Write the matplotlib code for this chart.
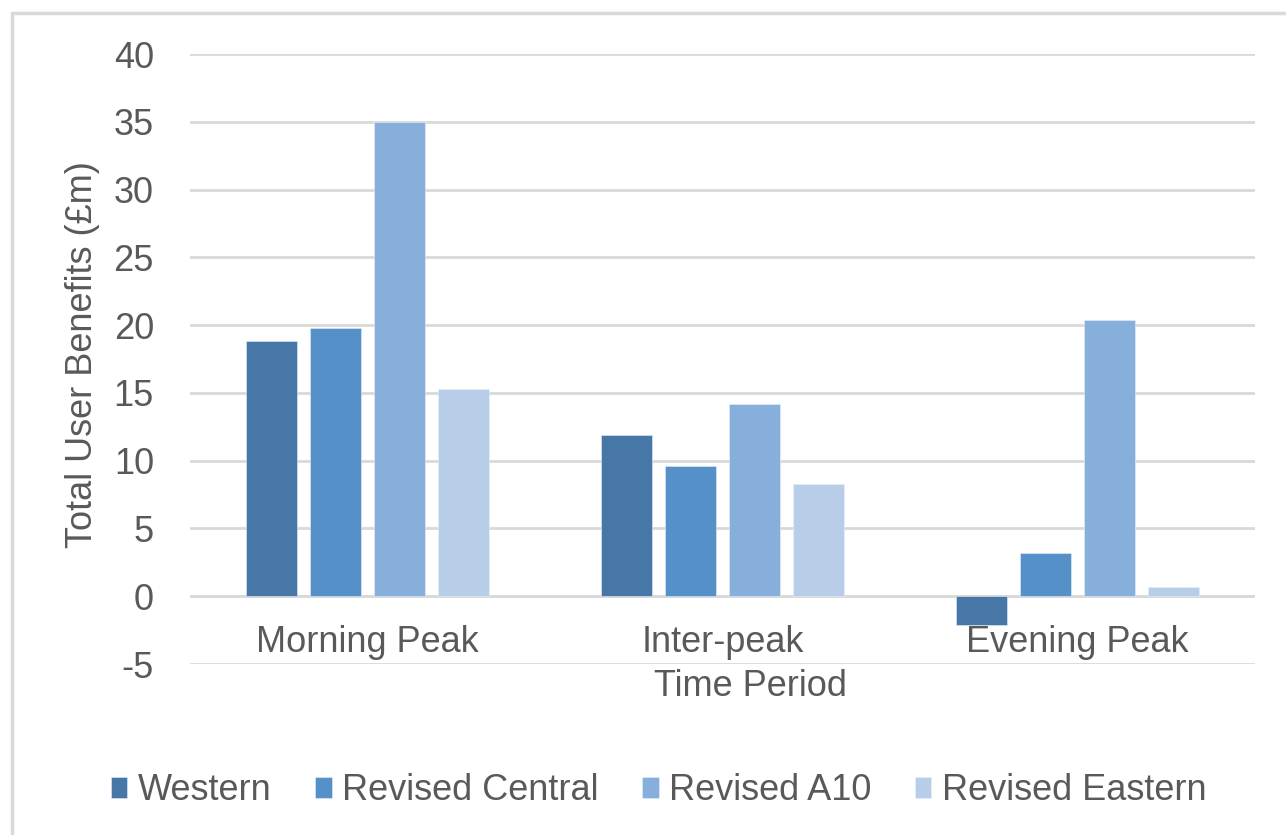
import numpy as np
import matplotlib.pyplot as plt
from matplotlib.patches import Rectangle

plt.rcParams['font.family'] = ['Liberation Sans', 'DejaVu Sans']

periods = ["Morning Peak", "Inter-peak", "Evening Peak"]
series = ["Western", "Revised Central", "Revised A10", "Revised Eastern"]
western = [18.8, 11.9, -2.1]
revised_central = [19.8, 9.6, 3.2]
revised_a10 = [35.0, 14.2, 20.4]
revised_eastern = [15.3, 8.3, 0.7]
y_ticks = [-5, 0, 5, 10, 15, 20, 25, 30, 35, 40]

colors = ["#4677A6", "#5591C8", "#86AFDC", "#B8CDE8"]
text_color = "#595959"
grid_color = "#D9D9D9"
fs = 26

W, H = 1286, 835
fig = plt.figure(figsize=(W / 100, H / 100), dpi=100)
fig.patch.set_facecolor("white")

# light frame around the chart area (only top and left edges fall inside)
fig.add_artist(Rectangle((12 / W, -0.05), 1.1, 1 - 13 / H + 0.05,
                         transform=fig.transFigure, fill=False,
                         edgecolor="#D9D9D9", linewidth=2.5))

ax = fig.add_axes([190 / W, 1 - 664 / H, (1255 - 190) / W, (664 - 54) / H])

x = np.arange(len(periods))
step = 0.18
width = 0.144
values = [western, revised_central, revised_a10, revised_eastern]
for i, (name, vals) in enumerate(zip(series, values)):
    ax.bar(x + (i - 1.5) * step, vals, width, color=colors[i], label=name,
           edgecolor="#E6EEF8", linewidth=0.4, zorder=3)

ax.set_xlim(-0.5, 2.5)
ax.set_ylim(-5, 40)
ax.set_yticks(y_ticks)
ax.set_yticklabels([str(t) for t in y_ticks])
ax.yaxis.grid(True, color=grid_color, linewidth=2, zorder=0)
ax.axhline(0, color=grid_color, linewidth=2, zorder=1)
for s in ax.spines.values():
    s.set_visible(False)
ax.tick_params(axis="both", length=0, labelsize=fs, labelcolor=text_color)
ax.tick_params(axis="y", pad=26)

# category names sit just under the zero line, not at the bottom of the axes
ax.set_xticks(x)
ax.set_xticklabels([])
for xi, lab in zip(x, periods):
    ax.text(xi, -3.4, lab, ha="center", va="center", fontsize=fs,
            color=text_color, zorder=4)

fig.text(750 / W, 1 - 686 / H, "Time Period", ha="center", va="center",
         fontsize=fs, color=text_color)
fig.text(82 / W, 1 - 355 / H, "Total User Benefits (£m)", ha="center",
         va="center", rotation=90, fontsize=fs, color=text_color)

fig.legend(loc="center", bbox_to_anchor=(659 / W, 1 - 791 / H), ncol=4,
           frameon=False, fontsize=fs, labelcolor=text_color,
           handlelength=0.45, handleheight=0.5, handletextpad=0.3,
           columnspacing=1.2, borderpad=0, borderaxespad=0)

fig.savefig("out.png", dpi=100, facecolor="white")
